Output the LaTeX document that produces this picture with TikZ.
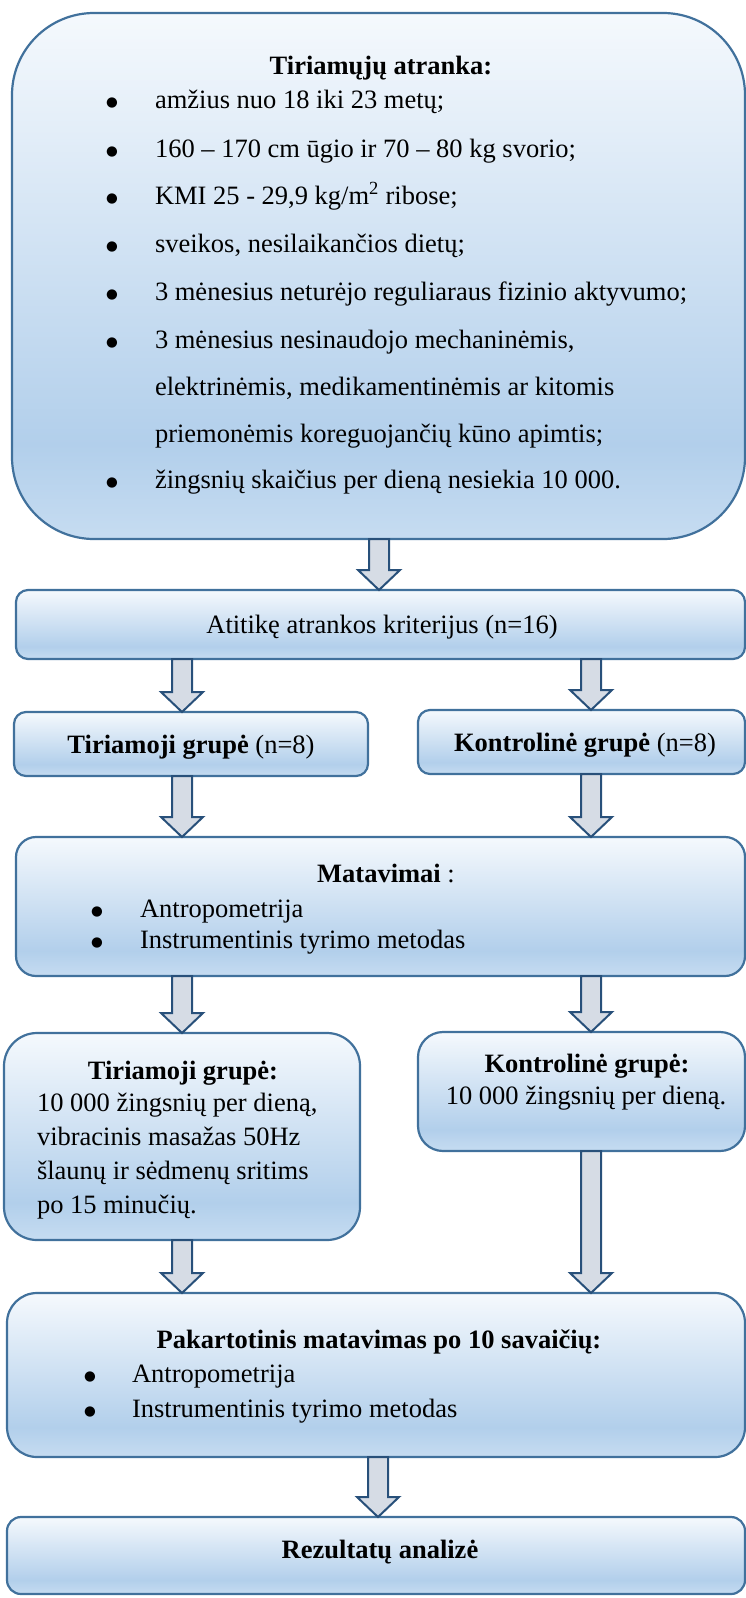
\documentclass[tikz,border=0pt]{standalone}
\usepackage{fontspec}
\setmainfont{Liberation Serif}
\newfontfamily\bulfont{DejaVu Sans}
\usetikzlibrary{calc}
\definecolor{bord}{RGB}{65,113,156}
\definecolor{abord}{RGB}{40,80,122}
\definecolor{afill}{RGB}{214,220,229}
\definecolor{gT}{RGB}{245,249,253}
\definecolor{gM}{RGB}{178,207,235}
\definecolor{gB}{RGB}{198,220,241}
\pgfdeclareverticalshading{wordgrad}{100bp}{color(0bp)=(gB); color(25bp)=(gB); color(34bp)=(gM); color(75bp)=(gT); color(100bp)=(gT)}
\tikzset{
  wbox/.style={draw=bord, line width=2.2pt, shading=wordgrad, shape=rectangle, inner sep=0pt, outer sep=0pt},
  barrow/.style={draw=abord, fill=afill, line width=2pt, line join=miter},
  txt/.style={inner sep=0pt, outer sep=0pt, font=\fontsize{26.5}{31}\selectfont},
  btxt/.style={inner sep=0pt, outer sep=0pt, font=\fontsize{26.5}{31}\selectfont\bfseries},
  bul/.style={inner sep=0pt, outer sep=0pt, font=\bulfont\fontsize{13.5}{15}\selectfont, anchor=base, yshift=2pt},
}
\newcommand\wordbox[6]{%
  \node[wbox, rounded corners=#6pt, minimum width={(#4-#2)*1pt}, minimum height={(#5-#3)*1pt}] (#1) at ({(#2+#4)/2},{(#3+#5)/2}) {};}
\newcommand\blockarrow[3]{%
  \draw[barrow] let \p1=(#2.south), \p2=(#3.north) in
    (#1pt-10pt,\y1) -- (#1pt+10pt,\y1) -- (#1pt+10pt,\y2+20pt) -- (#1pt+21pt,\y2+20pt)
    -- (#1pt,\y2) -- (#1pt-21pt,\y2+20pt) -- (#1pt-10pt,\y2+20pt) -- cycle;}
\begin{document}
\begin{tikzpicture}[x=1pt,y=-1pt]
\useasboundingbox (0,0) rectangle (746,1598);
% boxes
\wordbox{top}{12}{13}{745}{539}{82}
\wordbox{atit}{16}{590}{745}{659}{12}
\wordbox{tir8}{14}{712}{368}{776}{12}
\wordbox{kont8}{418}{710}{745}{774}{12}
\wordbox{matav}{16}{837}{745}{976}{20}
\wordbox{tirG}{4}{1033}{360}{1240}{33}
\wordbox{kontG}{418}{1032}{745}{1151}{25}
\wordbox{pak}{7}{1293}{745}{1457}{30}
\wordbox{rez}{7}{1517}{745}{1594}{14}
% arrows
\blockarrow{379}{top}{atit}
\blockarrow{182}{atit}{tir8}
\blockarrow{591}{atit}{kont8}
\blockarrow{182}{tir8}{matav}
\blockarrow{591}{kont8}{matav}
\blockarrow{182}{matav}{tirG}
\blockarrow{591}{matav}{kontG}
\blockarrow{182}{tirG}{pak}
\blockarrow{591}{kontG}{pak}
\blockarrow{378}{pak}{rez}
% top box text
\node[btxt, anchor=base] (topT) at (381,74) {Tiriamųjų atranka:};
\node[bul] (tb1) at (112,108) {●};
\node[txt, anchor=base west] (tl1) at (155,108) {amžius nuo 18 iki 23 metų;};
\node[bul] (tb2) at (112,157) {●};
\node[txt, anchor=base west] (tl2) at (155,157) {160 – 170 cm ūgio ir 70 – 80 kg svorio;};
\node[bul] (tb3) at (112,204) {●};
\node[txt, anchor=base west] (tl3) at (155,204) {KMI 25 - 29,9 kg/m\textsuperscript{2} ribose;};
\node[bul] (tb4) at (112,252) {●};
\node[txt, anchor=base west] (tl4) at (155,252) {sveikos, nesilaikančios dietų;};
\node[bul] (tb5) at (112,300) {●};
\node[txt, anchor=base west] (tl5) at (155,300) {3 mėnesius neturėjo reguliaraus fizinio aktyvumo;};
\node[bul] (tb6) at (112,348) {●};
\node[txt, anchor=base west] (tl6) at (155,348) {3 mėnesius nesinaudojo mechaninėmis,};
\node[txt, anchor=base west] (tl6b) at (155,395) {elektrinėmis, medikamentinėmis ar kitomis};
\node[txt, anchor=base west] (tl6c) at (155,442) {priemonėmis koreguojančių kūno apimtis;};
\node[bul] (tb7) at (112,488) {●};
\node[txt, anchor=base west] (tl7) at (155,488) {žingsnių skaičius per dieną nesiekia 10 000.};
% atitike
\node[txt, anchor=base] (atitT) at (382,633) {Atitikę atrankos kriterijus (n=16)};
% groups
\node[txt, anchor=base] (tir8T) at (191,753) {\textbf{Tiriamoji grupė} (n=8)};
\node[txt, anchor=base] (kont8T) at (585,751) {\textbf{Kontrolinė grupė} (n=8)};
% matavimai
\node[txt, anchor=base] (matT) at (386,882) {\textbf{Matavimai} :};
\node[bul] (mb1) at (97,917) {●};
\node[txt, anchor=base west] (ml1) at (140,917) {Antropometrija};
\node[bul] (mb2) at (97,948) {●};
\node[txt, anchor=base west] (ml2) at (140,948) {Instrumentinis tyrimo metodas};
% tiriamoji grupe
\node[btxt, anchor=base] (tirGT) at (183,1079) {Tiriamoji grupė:};
\node[txt, anchor=base west] (gl1) at (37,1111) {10 000 žingsnių per dieną,};
\node[txt, anchor=base west] (gl2) at (37,1145) {vibracinis masažas 50Hz};
\node[txt, anchor=base west] (gl3) at (37,1179) {šlaunų ir sėdmenų sritims};
\node[txt, anchor=base west] (gl4) at (37,1213) {po 15 minučių.};
% kontroline grupe
\node[btxt, anchor=base] (kontGT) at (587,1072) {Kontrolinė grupė:};
\node[txt, anchor=base] (kl1) at (586,1104) {10 000 žingsnių per dieną.};
% pakartotinis
\node[btxt, anchor=base] (pakT) at (379,1348) {Pakartotinis matavimas po 10 savaičių:};
\node[bul] (pb1) at (90,1382) {●};
\node[txt, anchor=base west] (pl1) at (132,1382) {Antropometrija};
\node[bul] (pb2) at (90,1417) {●};
\node[txt, anchor=base west] (pl2) at (132,1417) {Instrumentinis tyrimo metodas};
% rezultatai
\node[btxt, anchor=base] (rezT) at (380,1558) {Rezultatų analizė};
\end{tikzpicture}
\end{document}
